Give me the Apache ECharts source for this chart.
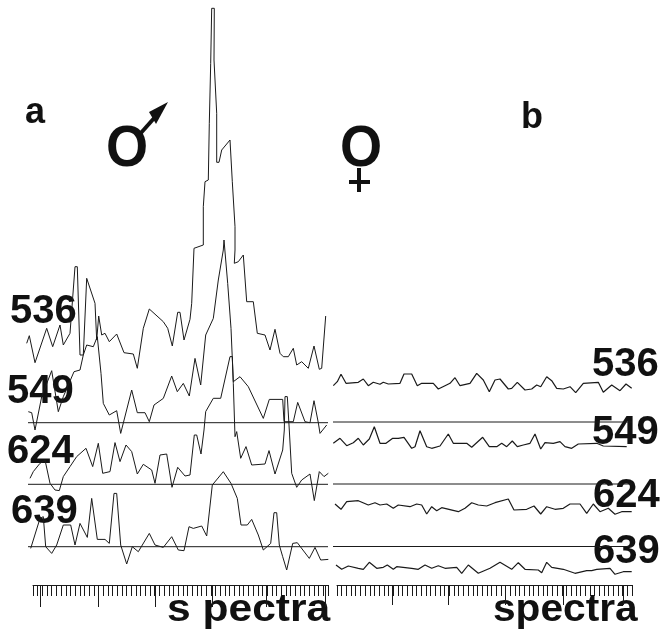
<!DOCTYPE html>
<html><head><meta charset="utf-8">
<script src="https://cdn.jsdelivr.net/npm/echarts@6/dist/echarts.min.js"></script>
<style>html,body{margin:0;padding:0;background:#fff}#c{width:663px;height:632px}</style></head>
<body><div id="c"></div>
<script>
// Male panel: [spectral position, signal relative to that trace's baseline]
const male536=[[0.7,0.7],[3.3,8.3],[9,-18.7],[20.7,15.7],[26.7,-2.7],[34,19],[37.3,-1],[44,10.7],[49,77.3],[51.3,77.3],[54,-11],[57.3,-11],[60.7,65.7],[62.3,65.7],[69,40.7],[70.7,4],[72.7,28],[74,28],[75.7,9],[79,10.7],[83.3,2.3],[90.7,10],[98,-8.7],[107.3,-10],[111.3,-24.3],[117.3,15.7],[123.3,35],[137.3,22.3],[141.7,15.7],[146.3,-2],[151.7,31.7],[154,31.7],[158,4],[164,24.7],[165.7,40.7],[168,95.7],[177.3,99],[177.3,137.3],[179,162.3],[182.3,164],[183.3,220.7],[184.7,280.7],[185.7,335.7],[188.3,335.7],[188,284],[190.7,230.7],[190.7,181.7],[193,181.7],[195.7,194],[204,204],[205.7,204],[206.3,162.3],[209,117.3],[209,94],[208.3,80.7],[212.3,82.3],[217.3,89],[220.7,42.3],[227.3,42.3],[231.3,10.7],[239,9],[244,-6],[249,14.7],[254,-9.3],[257.3,-12.7],[262.3,-12.7],[267.3,-4.3],[270.7,-21],[275.7,-17.7],[282.3,-24.3],[288,-2],[293.3,-25.3],[295.7,-24.3],[299.7,28]];
const male549=[[2.3,11],[5.7,10],[9,-7.3],[15.7,26],[25.7,52],[32.3,11],[37.3,26],[48,51],[54,52.7],[57.3,67.7],[60.7,77.7],[67.3,76],[71.3,86],[75,49.3],[77.3,19.3],[83.3,7.7],[90.7,12],[94.7,-10.7],[105.7,32.7],[111.3,10],[119,10],[123.3,1],[128,17.7],[137.3,24.3],[145.7,46.7],[151.3,31],[157.3,39.3],[163.3,26.7],[169,64.3],[170.7,64.3],[174.7,37.7],[179.7,87.7],[187.3,104.3],[192.3,142.7],[197.3,172.7],[198,182.7],[200,182.7],[201.7,139.3],[205,94.3],[207.3,41],[214,46],[222.3,36],[237.3,4.3],[243.3,23.3],[256.7,23.3],[258,1],[267.3,1],[271.7,20.3],[279,1],[284,0],[288,22],[292.3,0],[294,-10.7],[300.7,-2.3]];
const male624=[[4,6],[7.3,12.7],[14,21],[19,24.3],[24,1],[29,-5.7],[33.3,-6.3],[37.3,7.7],[44,17.7],[50.7,27.7],[60,36],[66.7,17.7],[72.3,41],[76.7,11],[84,12.7],[89,41.7],[94,22.7],[100,39.3],[105.7,32.7],[111.3,10.3],[117.3,20],[125.7,14.3],[129,1],[134,29.3],[140.7,30.3],[146,-3],[151.7,17],[159,8.3],[164,9.3],[168.3,49.3],[170.7,49.3],[175,30.3],[178,54.3],[179.7,72.7],[187.3,86],[194.7,86],[204,127.7],[206.3,127.7],[207.3,101],[209,47.6],[210.7,52.7],[214.7,26],[220,37.7],[225.7,19.3],[239,20.3],[243,33.7],[249,10.3],[256.7,34.3],[258.3,54.3],[259,87.7],[261.3,87.7],[263.3,54.3],[265.7,11],[270.7,-3],[275.7,4.3],[284,10.3],[288.3,-16.3],[293.3,12.7],[298,7.7],[302.3,11]];
const male639=[[4.7,-1.7],[14,28.3],[17.3,30],[19.7,0],[25.7,-6.7],[30.7,1.7],[37.3,21.7],[44.7,21.7],[49,1.7],[54,23.3],[61.3,9.3],[65.7,48.3],[67.3,48.3],[71.3,7.3],[79,7.3],[83.3,3.3],[88,53.3],[90.7,53.3],[94.7,1.7],[100.7,-17.3],[106.3,0],[112.3,-5],[123.3,13.3],[129,1.7],[137.3,-0.7],[145.7,10],[152.3,-3.3],[158,-4],[163,20],[167.3,18.3],[175.7,20.7],[180.7,10.7],[186.3,61.7],[197.3,75],[205,63.3],[211.3,48.3],[215,21.7],[221.3,21.7],[225.7,27.3],[232.3,11.7],[237.3,-3.3],[244.7,3.3],[248,34],[250.7,34],[253.3,1.7],[256.7,-10],[260.7,-23.3],[266.7,3.3],[271.3,4],[283.3,-11.7],[289,-0.7],[294.7,-13.3],[302.3,-12.7]];
// Female panel
const female536=[[3.3,-25.7],[7.3,-21.7],[11,-14.3],[16,-23.3],[28.3,-22.3],[33.3,-19],[38.3,-25.7],[43.3,-22.3],[50,-24.3],[53.3,-22.3],[58.3,-24],[70,-23.3],[74,-14],[81.7,-14],[87.3,-25.7],[91.7,-23.3],[103.3,-23.3],[108.3,-29],[115,-25.7],[120,-23.3],[125,-17.7],[130,-25.7],[140,-23.3],[146.7,-13.3],[153.3,-20],[159.3,-31.7],[165,-20],[170,-19],[178.3,-29],[181.7,-28.3],[187.3,-22.3],[195,-30],[201.7,-29],[206.7,-25],[210.7,-26.7],[216.7,-16.7],[221.7,-20.7],[226.7,-28.3],[233.3,-29],[240,-26.7],[245.7,-32.7],[253.3,-23.3],[268.3,-22.3],[273.3,-32.3],[281.7,-25],[290,-30.7],[296,-24],[301.7,-28.3]];
const female549=[[3.3,-21.3],[10,-16.3],[16.7,-23.7],[23.3,-20.7],[28.3,-16.3],[33.3,-23],[39.3,-17],[44.3,-4.7],[50,-21.3],[56,-21.3],[62.7,-16.3],[68.3,-16.3],[74,-15.3],[81.7,-26.3],[85,-24.7],[90,-8.7],[96.7,-24.7],[101.7,-26.3],[110,-24],[118.3,-12],[123.3,-21.3],[136.7,-21.3],[141.7,-25.3],[152.7,-15.3],[159.3,-24.7],[166.7,-24.7],[171.7,-21.3],[176.7,-24.7],[182.3,-19],[187.3,-24.7],[193.3,-23],[200,-21.3],[205,-12],[210.7,-27],[215,-20.7],[223.3,-21.3],[230,-19.7],[235,-24.7],[241.7,-26.3],[248.3,-22],[266.7,-21.3],[273.3,-24],[296.7,-24.7]];
const female624=[[5,-20],[11,-25.3],[16.7,-17.7],[28.3,-16.7],[38.3,-21],[45,-18.7],[50,-21],[56.7,-20],[63.3,-24.3],[68.3,-21],[80,-22.7],[86.7,-20],[91.7,-21],[96.7,-30],[101.7,-22.7],[106.7,-26.7],[111.7,-23.7],[128.3,-27.7],[135,-24.3],[141.7,-18.7],[148.3,-21],[156.7,-22],[165,-18.7],[178.3,-15],[184,-26],[196.7,-25.3],[204,-22],[210.7,-30],[216.7,-22.7],[225,-25.3],[233.3,-24.3],[240,-20],[250,-20],[256.7,-29.3],[263.3,-20],[270,-27.7],[278.3,-24.3],[285,-30.3],[291.7,-27.7],[301.7,-27.7]];
const female639=[[6,-18.5],[11.7,-22.8],[18.3,-19.5],[28.3,-21.8],[33.3,-22.8],[39.3,-15.8],[46.7,-21.8],[53.3,-20.8],[57.3,-18.5],[63.3,-22.8],[66.7,-20.2],[81.7,-21.8],[88.3,-22.8],[95,-18.5],[101.7,-21.8],[108.3,-19.2],[115,-21.8],[126.7,-20.8],[131.7,-26.8],[138.3,-18.5],[148.3,-26.8],[160,-21.8],[170,-15.8],[181.7,-22.8],[188.3,-16.2],[195,-22.8],[208.3,-23.5],[211.7,-26.2],[216.7,-15.8],[221.7,-20.8],[233.3,-22.8],[245,-26.8],[256.7,-24.2],[261.7,-24.2],[266.7,-22.8],[280,-21.8],[285,-27.8],[293.3,-25.2],[301.7,-25.2]];
// Vertical stacking offset of each trace (same scale as the signal)
const maleOffsets=[241,162.3,100.7,38.3];
const femaleOffsets=[225,163,101,38.5];
const maleSeries=[male536,male549,male624,male639];
const femaleSeries=[female536,female549,female624,female639];
const wavelengths=['536','549','624','639'];
const maleLongTicks=[1.65,13.95,26.07,38.2,49.9,62.4];
const femaleLongTicks=[11.7,23.7,35.9,48.3,61.1];
const INK='#1a1a1a';

const shift=(d,o)=>d.map(p=>[p[0],p[1]+o]);
const line=(name,data,gi,w,clip)=>({type:'line',name,data,xAxisIndex:gi,yAxisIndex:gi,showSymbol:false,symbol:'none',clip:clip!==false,
  silent:true,lineStyle:{color:INK,width:w||1},animation:false});
const series=[];
maleSeries.forEach((d,i)=>series.push(line('male '+wavelengths[i],shift(d,maleOffsets[i]),0)));
femaleSeries.forEach((d,i)=>series.push(line('female '+wavelengths[i],shift(d,femaleOffsets[i]),1,1.2)));
// zero lines for 549, 624, 639
[1,2,3].forEach(i=>{
  series.push(line('male base '+wavelengths[i],[[2,maleOffsets[i]],[302,maleOffsets[i]]],0));
  series.push(line('female base '+wavelengths[i],[[3,femaleOffsets[i]],[302,femaleOffsets[i]]],1));
});
series.push(line('male base 536',[[-17,maleOffsets[0]],[-11,maleOffsets[0]]],0,2,false));

const hiddenY=(g,max)=>({type:'value',gridIndex:g,min:0,max,show:false});
const hiddenX=(g,max)=>({type:'value',gridIndex:g,min:0,max,show:false});
const rulerX=(g)=>({type:'value',gridIndex:g,min:0,max:63,interval:1,position:'bottom',
  axisLine:{show:true,onZero:false,lineStyle:{color:INK,width:1}},axisLabel:{show:false},splitLine:{show:false},
  axisTick:{show:true,inside:false,length:11,lineStyle:{color:INK,width:1}}});
const longX=(g,vals,len)=>({type:'value',gridIndex:g,min:0,max:63,position:'bottom',
  axisLine:{show:false,onZero:false},axisLabel:{show:false,customValues:vals},splitLine:{show:false},
  axisTick:{show:true,inside:false,length:len,customValues:vals,lineStyle:{color:INK,width:1}}});

const txt=(text,x,y,size,opts)=>Object.assign({type:'text',x,y,silent:true,style:Object.assign({text,fill:'#111',
  font:'bold '+size+'px "Liberation Sans",Arial,sans-serif',verticalAlign:'middle',align:'left'},(opts&&opts.style)||{})},(opts&&opts.el)||{});
const stroke=(x1,y1,x2,y2,w)=>({type:'line',silent:true,shape:{x1,y1,x2,y2},style:{stroke:'#111',lineWidth:w}});

const labels=[
 txt('536',10,312,40),txt('549',7,392,40),txt('624',7,452,40),txt('639',11,512,40),
 txt('536',592,365,40),txt('549',592,433,40),txt('624',593,496,40),txt('639',593,552,40),
 txt('a',25,113,36),txt('b',521,118,36),
 txt('s pectra',167,611,38,{el:{scaleX:1.12}}),
 txt('spectra',493,611,38,{el:{scaleX:1.07}}),
 // male symbol
 txt('O',106,150,57,{el:{scaleX:0.95}}),
 stroke(140,134,156,116,4),
 {type:'polygon',silent:true,shape:{points:[[168,102],[156,124],[149,112]]},style:{fill:'#111'}},
 // female symbol
 txt('O',340,150,57,{el:{scaleX:0.95}}),
 stroke(359,168,359,192,4),
 stroke(349,182,370,182,4)
];

const chart=echarts.init(document.getElementById('c'),null,{renderer:'canvas'});
chart.setOption({
  animation:false,backgroundColor:'#fff',
  grid:[
    {left:26,top:0,width:304,height:585},
    {left:330,top:0,width:310,height:585},
    {left:33,top:584,width:295,height:1},
    {left:337,top:584,width:295,height:1}
  ],
  xAxis:[hiddenX(0,304),hiddenX(1,310),rulerX(2),rulerX(3),longX(2,maleLongTicks,22),longX(3,femaleLongTicks,20)],
  yAxis:[hiddenY(0,585),hiddenY(1,585),hiddenY(2,1),hiddenY(3,1)],
  series,
  graphic:{elements:labels}
});
</script></body></html>
